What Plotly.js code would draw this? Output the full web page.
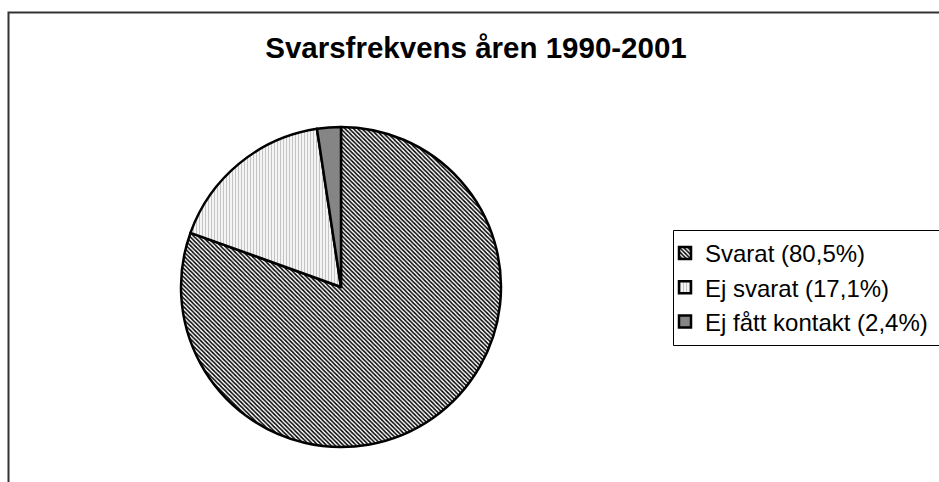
<!DOCTYPE html>
<html>
<head>
<meta charset="utf-8">
<script src="https://cdn.plot.ly/plotly-3.0.1.min.js"></script>
<style>html,body{margin:0;padding:0;background:#fff;}#chart{width:939px;height:482px;}</style>
</head>
<body>
<div id="chart"></div>
<script>
const categories = ["Svarat", "Ej svarat", "Ej fått kontakt"];
const values = [80.5, 17.1, 2.4];
const legendLabels = categories.map((c, i) => c + " (" + values[i].toFixed(1).replace(".", ",") + "%)");

const W = 939, H = 482;
const cx = 341, cy = 287, r = 160;

const trace = {
  type: "pie",
  labels: legendLabels,
  values: values,
  sort: false,
  direction: "clockwise",
  rotation: 0,
  textinfo: "none",
  hoverinfo: "label",
  domain: {x: [(cx - r) / W, (cx + r) / W], y: [1 - (cy + r) / H, 1 - (cy - r) / H]},
  marker: {
    colors: ["#9a9a9a", "#eeeeee", "#858585"],
    line: {color: "#000", width: 2.5},
    pattern: {
      shape: ["\\", "|", ""],
      fgcolor: ["#000000", "#c4c4c4", "#707070"],
      bgcolor: ["#ffffff", "#ffffff", "#858585"],
      size: [3, 3, 3],
      solidity: [0.5, 0.45, 0.3],
      fillmode: "replace"
    }
  }
};

const layout = {
  width: W, height: H,
  margin: {l: 0, r: 0, t: 0, b: 0},
  paper_bgcolor: "#fff",
  font: {family: "'Liberation Sans', Arial, sans-serif", color: "#000"},
  title: {
    text: "<b>Svarsfrekvens åren 1990-2001</b>",
    font: {size: 29.5, family: "'Liberation Sans', Arial, sans-serif", color: "#000"},
    x: 476 / W, xanchor: "center", xref: "paper",
    y: 1 - 48 / H, yanchor: "middle", yref: "paper"
  },
  showlegend: true,
  legend: {
    x: 665 / W, xanchor: "left",
    y: 1 - 231 / H, yanchor: "top",
    borderwidth: 0,
    bgcolor: "rgba(0,0,0,0)",
    font: {size: 24, family: "'Liberation Sans', Arial, sans-serif", color: "#000"},
    itemwidth: 30,
    traceorder: "normal"
  },
  shapes: [{
    type: "rect", xref: "paper", yref: "paper",
    x0: 8.5 / W, x1: 1.05, y0: -0.05, y1: 1 - 12.5 / H,
    line: {color: "#333", width: 2}, fillcolor: "rgba(0,0,0,0)", layer: "below"
  }, {
    type: "rect", xref: "paper", yref: "paper",
    x0: 673.5 / W, x1: 1.05, y0: 1 - 345.5 / H, y1: 1 - 230.5 / H,
    line: {color: "#000", width: 1}, fillcolor: "#fff", layer: "below"
  }]
};

Plotly.newPlot("chart", [trace], layout, {displayModeBar: false, staticPlot: true});
</script>
</body>
</html>
